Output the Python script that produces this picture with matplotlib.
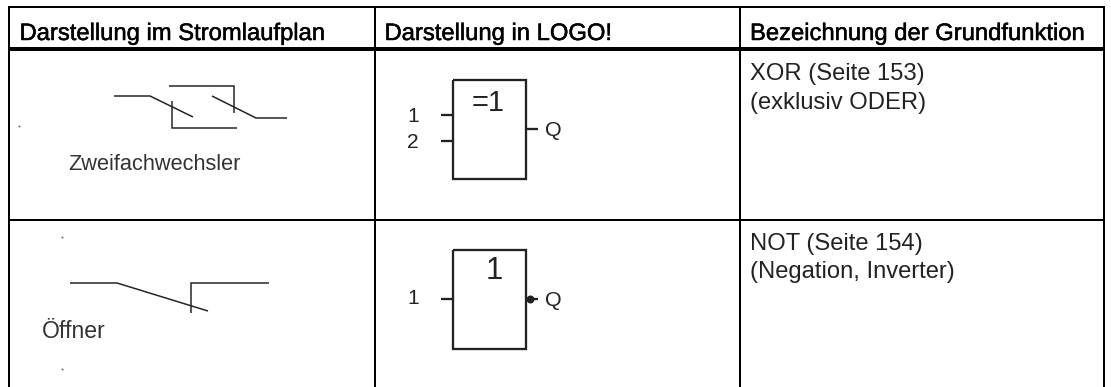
import matplotlib
matplotlib.use('Agg')
import matplotlib.pyplot as plt
import matplotlib.patheffects as pe

plt.rcParams['font.family'] = ['Liberation Sans', 'DejaVu Sans']

W, H = 1111, 387

# table grid
col_x = [9, 375, 740, 1104]
table_top = 6.5
table_bottom = 387
header_y = 49
row_y = 220

headers = ['Darstellung im Stromlaufplan', 'Darstellung in LOGO!', 'Bezeichnung der Grundfunktion']
header_x = [19.5, 384.5, 750]

names_x = 750
names = [('XOR (Seite 153)', 80), ('(exklusiv ODER)', 109), ('NOT (Seite 154)', 250), ('(Negation, Inverter)', 278)]

# circuit symbols, each a polyline
switch_xor = [
    ([114, 150, 193], [96, 96, 117]),
    ([169, 234, 234], [86, 86, 113]),
    ([172, 172, 237], [101, 128, 128]),
    ([212, 256, 287], [96, 118, 118]),
]
switch_not = [
    ([70, 117, 208], [283, 283, 311]),
    ([191, 191, 269], [313, 283, 283]),
]
specks = [(19, 126), (62, 237), (62, 369)]

# LOGO blocks
box_x = [453, 526]
box_xor_y = [80, 179]
box_not_y = [250, 349]

fig = plt.figure(figsize=(W / 100, H / 100), dpi=100)
ax = fig.add_axes([0, 0, 1, 1])
ax.set_xlim(0, W)
ax.set_ylim(H, 0)
ax.axis('off')


def px(n):
    return n * 72 / 100


def line(xs, ys, width=1.0, color='#222222'):
    ax.plot(xs, ys, color=color, lw=px(width), solid_capstyle='butt', solid_joinstyle='miter')


# grid
line([col_x[0] - 1, col_x[-1] + 1], [table_top, table_top], 2, 'black')
line([col_x[0] - 1, col_x[-1] + 1], [header_y, header_y], 4, 'black')
line([col_x[0] - 1, col_x[-1] + 1], [row_y, row_y], 2, 'black')
for x in col_x:
    line([x, x], [table_top, table_bottom], 2, 'black')

# header text, slightly heavier than regular
for x, t in zip(header_x, headers):
    ax.text(x, 40, t, fontsize=px(23.8), color='black', va='baseline', ha='left',
            path_effects=[pe.withStroke(linewidth=0.35, foreground='black')])

for t, y in names:
    ax.text(names_x, y, t, fontsize=px(23.8), color='#222222', va='baseline', ha='left')

# switches
for xs, ys in switch_xor + switch_not:
    line(xs, ys, 1.5)
for x, y in specks:
    ax.plot([x], [y], marker='s', ms=1.2, color='#555555', mew=0)
ax.text(68, 170, 'Zweifachwechsler', fontsize=px(21.8), color='#333333')
ax.text(42, 338, 'Öffner', fontsize=px(23), color='#333333')

# blocks
for ys in (box_xor_y, box_not_y):
    line([box_x[0], box_x[1], box_x[1], box_x[0], box_x[0]], [ys[0], ys[0], ys[1], ys[1], ys[0]], 2.3)

line([441, 453], [115, 115], 2.3)
line([441, 453], [141, 141], 2.3)
line([526, 538], [129, 129], 2.3)
line([441, 453], [299, 299], 2.3)
line([526, 538], [299, 299], 2.3)
ax.plot([530], [299], marker='o', ms=px(8), color='#222222', mew=0)

ax.text(488, 103, '=1', fontsize=px(29), color='#222222', ha='center', va='center')
ax.text(494, 271, '1', fontsize=px(31), color='#222222', ha='center', va='center')
ax.text(413, 116, '1', fontsize=px(21), color='#222222', ha='center', va='center')
ax.text(413, 142, '2', fontsize=px(21), color='#222222', ha='center', va='center')
ax.text(413, 299, '1', fontsize=px(21), color='#222222', ha='center', va='center')
ax.text(545, 130, 'Q', fontsize=px(21.5), color='#222222', ha='left', va='center')
ax.text(545, 300, 'Q', fontsize=px(21.5), color='#222222', ha='left', va='center')

fig.savefig('out.png', dpi=100)
